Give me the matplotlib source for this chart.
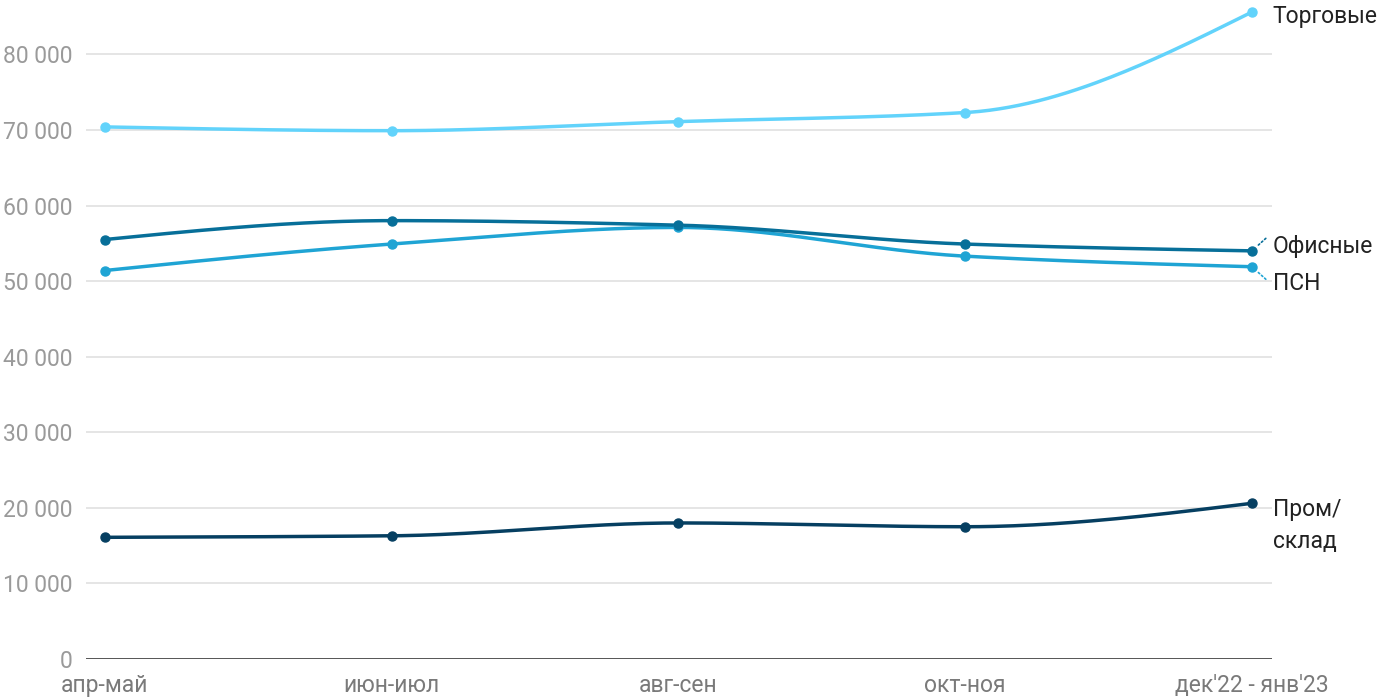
import numpy as np
import matplotlib
matplotlib.use("Agg")
import matplotlib.pyplot as plt

plt.rcParams['font.family'] = ['Roboto', 'DejaVu Sans']

periods = ["апр-май", "июн-июл", "авг-сен", "окт-ноя", "дек'22 - янв'23"]
torg = [70400, 69900, 71100, 72300, 85600]
ofis = [55500, 58000, 57400, 54900, 54000]
psn = [51400, 54900, 57100, 53300, 51900]
prom = [16100, 16300, 18000, 17500, 20600]

series = [
    ("Торговые", torg, "#62d3fb"),
    ("ПСН", psn, "#1fa4d4"),
    ("Офисные", ofis, "#076f99"),
    ("Пром/\nсклад", prom, "#063f61"),
]
yticks = [0, 10000, 20000, 30000, 40000, 50000, 60000, 70000, 80000]


def monotone(x, y, n=60):
    x = np.asarray(x, float); y = np.asarray(y, float)
    h = np.diff(x); d = np.diff(y) / h
    m = np.zeros_like(y)
    for i in range(1, len(y) - 1):
        if d[i - 1] * d[i] <= 0:
            m[i] = 0
        else:
            m[i] = 3 * (h[i-1] + h[i]) / ((2*h[i] + h[i-1]) / d[i-1] + (h[i] + 2*h[i-1]) / d[i])
    m[0] = (3 * d[0] - m[1]) / 2
    m[-1] = (3 * d[-1] - m[-2]) / 2
    xs, ys = [], []
    for i in range(len(x) - 1):
        t = np.linspace(0, 1, n)
        h00 = 2*t**3 - 3*t**2 + 1; h10 = t**3 - 2*t**2 + t
        h01 = -2*t**3 + 3*t**2; h11 = t**3 - t**2
        xs.append(x[i] + t * h[i])
        ys.append(h00*y[i] + h10*h[i]*m[i] + h01*y[i+1] + h11*h[i]*m[i+1])
    return np.concatenate(xs), np.concatenate(ys)


fig = plt.figure(figsize=(14, 7), dpi=100)
ax = fig.add_axes([86/1400, 1 - 659/700, (1272-86)/1400, 650/700])
x = np.arange(len(periods))
ax.set_xlim(-0.066, 4.07)
ax.set_ylim(0, 86000)

for yt in yticks[1:]:
    ax.axhline(yt, color="#e3e3e3", lw=1.3, zorder=0)
ax.axhline(0, color="#222222", lw=1.8, zorder=1)

for name, vals, col in series:
    xs, ys = monotone(x, vals)
    ax.plot(xs, ys, color=col, lw=2.5, zorder=3, clip_on=False, solid_capstyle='round')
    ax.plot(x, vals, 'o', color=col, ms=6.5, zorder=4, clip_on=False)

fs = 16.5
ax.annotate("Торговые", xy=(4, torg[-1]), xytext=(15, -3.5), textcoords='offset points',
            va='center', ha='left', fontsize=fs, color="#222222", annotation_clip=False)
ax.annotate("Офисные", xy=(4, ofis[-1]), xytext=(15, 3.2), textcoords='offset points',
            va='center', ha='left', fontsize=fs, color="#222222", annotation_clip=False)
ax.annotate("ПСН", xy=(4, psn[-1]), xytext=(15, -12.0), textcoords='offset points',
            va='center', ha='left', fontsize=fs, color="#222222", annotation_clip=False)
ax.annotate("Пром/\nсклад", xy=(4, prom[-1]), xytext=(15, 3.5), textcoords='offset points',
            va='top', ha='left', fontsize=fs, color="#222222", linespacing=1.5,
            annotation_clip=False)

# dotted connectors
for vals, col, sgn in [(ofis, "#076f99", 1), (psn, "#1fa4d4", -1)]:
    ax.annotate("", xy=(4, vals[-1]), xytext=(10, 9 * sgn), textcoords='offset points',
                arrowprops=dict(arrowstyle='-', color=col, lw=1.2, linestyle=(0, (1, 1.5)),
                                shrinkA=0, shrinkB=5), annotation_clip=False)

ax.set_yticks(yticks)
ax.set_yticklabels([f"{v:,}".replace(",", " ") for v in yticks])
ax.set_xticks(x)
ax.set_xticklabels(periods)
ax.tick_params(axis='y', length=0, pad=9.5, labelsize=fs, labelcolor="#9a9a9a")
ax.tick_params(axis='x', length=0, pad=10.5, labelsize=fs, labelcolor="#7a7a7a")
for s in ax.spines.values():
    s.set_visible(False)
ax.set_facecolor('none')

fig.savefig("out.png", dpi=100)
